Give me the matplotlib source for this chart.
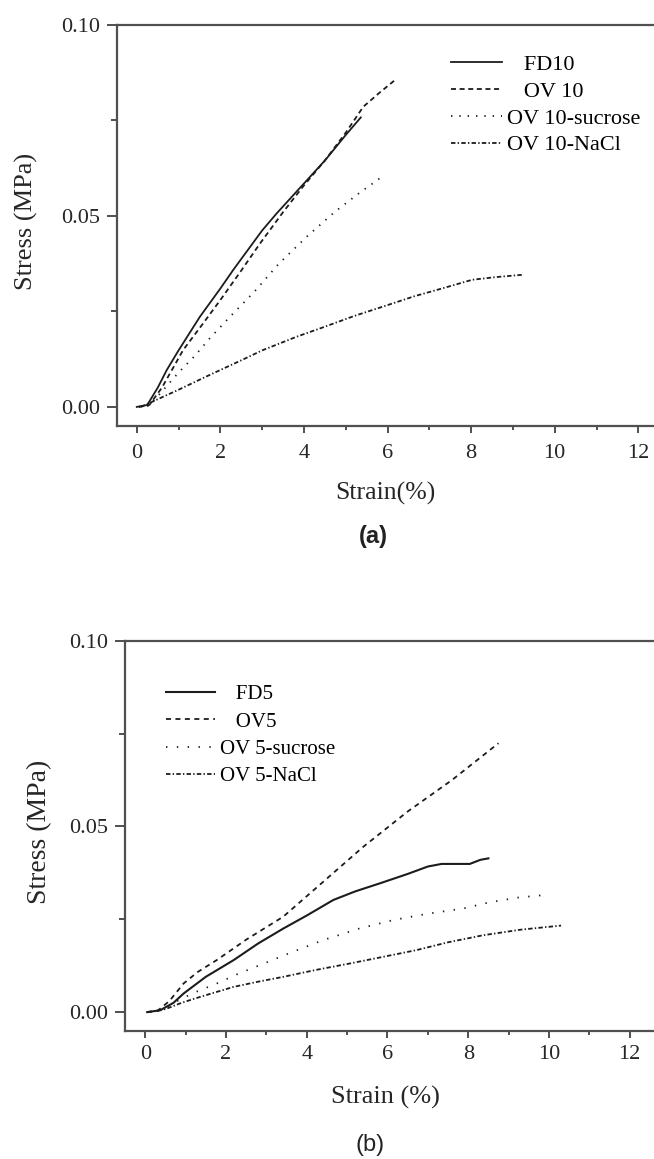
import matplotlib
matplotlib.use("Agg")
import matplotlib.pyplot as plt
from matplotlib.ticker import MultipleLocator, FixedLocator

plt.rcParams['font.family'] = ['Liberation Serif', 'DejaVu Serif']
plt.rcParams['lines.scale_dashes'] = False

# ---------------- data: panel (a) ----------------
fd10_x = [0.0, 0.25, 0.5, 0.72, 1.0, 1.51, 2.0, 2.31, 3.0, 3.35, 4.0, 4.5, 5.0, 5.36]
fd10_y = [0.0, 0.0005, 0.005, 0.0097, 0.0148, 0.0236, 0.031, 0.0359, 0.0462, 0.0507, 0.0585, 0.0645, 0.0712, 0.0758]

ov10_x = [0.05, 0.3, 0.6, 1.11, 1.59, 2.0, 2.5, 2.95, 3.5, 4.0, 4.5, 5.0, 5.42, 5.8, 6.18]
ov10_y = [0.0, 0.0005, 0.005, 0.0149, 0.0219, 0.028, 0.0357, 0.0428, 0.051, 0.058, 0.0645, 0.0718, 0.0786, 0.0822, 0.0856]

ov10s_x = [0.05, 0.3, 0.6, 1.0, 1.4, 1.75, 2.23, 2.8, 3.4, 4.07, 4.74, 5.3, 5.82]
ov10s_y = [0.0, 0.0003, 0.004, 0.009, 0.0135, 0.018, 0.0236, 0.030, 0.0375, 0.0446, 0.0511, 0.0558, 0.0599]

ov10n_x = [0.1, 0.5, 1.0, 1.75, 2.5, 3.0, 3.83, 4.5, 5.2, 5.9, 6.65, 7.3, 8.03, 8.6, 9.24]
ov10n_y = [0.0, 0.002, 0.0045, 0.0084, 0.0122, 0.0148, 0.0184, 0.021, 0.0238, 0.0263, 0.029, 0.031, 0.0333, 0.034, 0.0346]

labels_a = ["   FD10", "   OV 10", "OV 10-sucrose", "OV 10-NaCl"]

# ---------------- data: panel (b) ----------------
fd5_x = [0.05, 0.37, 0.7, 0.95, 1.5, 2.19, 2.8, 3.42, 4.0, 4.66, 5.2, 5.82, 6.5, 7.0, 7.34, 8.04, 8.3, 8.5]
fd5_y = [0.0, 0.0005, 0.0025, 0.005, 0.0095, 0.014, 0.0185, 0.0225, 0.026, 0.0302, 0.0325, 0.0347, 0.0372, 0.0392, 0.0399, 0.0399, 0.0410, 0.0414]

ov5_x = [0.05, 0.3, 0.6, 0.95, 1.3, 1.77, 2.5, 3.42, 4.4, 5.4, 6.5, 7.6, 8.75]
ov5_y = [0.0, 0.0003, 0.003, 0.0077, 0.0108, 0.014, 0.0195, 0.0257, 0.035, 0.0445, 0.054, 0.0625, 0.0724]

ov5s_x = [0.05, 0.4, 0.8, 1.2, 1.77, 2.3, 2.85, 3.6, 4.41, 5.3, 6.15, 7.0, 7.88, 8.5, 9.2, 9.86]
ov5s_y = [0.0, 0.0005, 0.003, 0.0052, 0.0077, 0.0103, 0.0127, 0.016, 0.0194, 0.0225, 0.0248, 0.0265, 0.0279, 0.0295, 0.0308, 0.0315]

ov5n_x = [0.05, 0.5, 0.9, 1.36, 2.19, 2.8, 3.42, 4.2, 5.07, 5.9, 6.72, 7.5, 8.37, 9.3, 10.3]
ov5n_y = [0.0, 0.0008, 0.0025, 0.0041, 0.0068, 0.0082, 0.0095, 0.0113, 0.0131, 0.0149, 0.0167, 0.0188, 0.0207, 0.0222, 0.0233]

labels_b = ["   FD5", "   OV5", "OV 5-sucrose", "OV 5-NaCl"]

x_ticks = [0, 2, 4, 6, 8, 10, 12]
y_ticks = [0.00, 0.05, 0.10]
y_ticklabels = ["0.00", "0.05", "0.10"]

W, H = 654, 1159
fig = plt.figure(figsize=(W / 100, H / 100), dpi=100)

def px_axes(left, top, right, bottom):
    return [left / W, 1 - bottom / H, (right - left) / W, (bottom - top) / H]

LC = '#1c1c1c'
SC = '#505050'
TC = '#262626'

def style_axes(ax, xlim, xpad):
    ax.set_xlim(*xlim)
    ax.set_ylim(-0.005, 0.10)
    ax.xaxis.set_major_locator(FixedLocator(x_ticks))
    ax.xaxis.set_minor_locator(MultipleLocator(1))
    ax.yaxis.set_major_locator(FixedLocator(y_ticks))
    ax.set_yticklabels(y_ticklabels)
    ax.yaxis.set_minor_locator(MultipleLocator(0.025))
    for s in ['left', 'bottom', 'top']:
        ax.spines[s].set_color(SC)
        ax.spines[s].set_linewidth(1.6)
    ax.spines['right'].set_visible(False)
    ax.tick_params(axis='both', which='major', direction='out', color=SC,
                   width=1.4, labelsize=16, labelcolor=TC)
    ax.tick_params(axis='x', which='major', length=5, pad=xpad)
    ax.tick_params(axis='y', which='major', length=7, pad=5)
    ax.tick_params(axis='x', which='minor', length=3, width=1.4, color=SC)
    ax.tick_params(axis='y', which='minor', length=4, width=1.4, color=SC)
    ax.tick_params(top=False, right=False, which='both')

# ---------------- panel (a) ----------------
ax1 = fig.add_axes(px_axes(116.7, 25, 663.4, 426))
l1, = ax1.plot(fd10_x, fd10_y, color=LC, lw=1.3, ls='-')
l2, = ax1.plot(ov10_x, ov10_y, color=LC, lw=1.3, ls=(0, (3.6, 2.6)))
l3, = ax1.plot(ov10s_x, ov10s_y, color=LC, lw=1.3, ls=(0, (1.0, 5.0)))
l4, = ax1.plot(ov10n_x, ov10n_y, color=LC, lw=1.3, ls=(0, (3.2, 1.6, 1.0, 1.6)))
style_axes(ax1, (-0.48, 12.6), 8)
ax1.legend([l1, l2, l3, l4], labels_a, loc='upper left', frameon=False,
           bbox_to_anchor=(451 / W, 1 - 54.5 / H), bbox_transform=fig.transFigure,
           borderpad=0, borderaxespad=0, handlelength=2.3, handletextpad=0.2,
           labelspacing=0.28, prop={'size': 16})

fig.text(385.7 / W, 1 - 493 / H, "Strain(%)", ha='center', va='center', fontsize=18.5, color=TC)
fig.text(26 / W, 1 - 221.6 / H, "Stress (MPa)", ha='center', va='center', rotation=90, fontsize=19, color=TC)
fig.text(373 / W, 1 - 536 / H, "(a)", ha='center', va='center', fontsize=17, fontweight='bold',
         family=['Liberation Sans', 'DejaVu Sans'], color='#222222')

# ---------------- panel (b) ----------------
ax2 = fig.add_axes(px_axes(125, 640.7, 662, 1030.7))
m1, = ax2.plot(fd5_x, fd5_y, color=LC, lw=1.5, ls='-')
m2, = ax2.plot(ov5_x, ov5_y, color=LC, lw=1.3, ls=(0, (3.6, 3.2)))
m3, = ax2.plot(ov5s_x, ov5s_y, color=LC, lw=1.3, ls=(0, (1.0, 6.8)))
m4, = ax2.plot(ov5n_x, ov5n_y, color=LC, lw=1.3, ls=(0, (3.2, 1.6, 1.0, 1.6)))
style_axes(ax2, (-0.5, 12.8), 5)
ax2.legend([m1, m2, m3, m4], labels_b, loc='upper left', frameon=False,
           bbox_to_anchor=(165.6 / W, 1 - 684.7 / H), bbox_transform=fig.transFigure,
           borderpad=0, borderaxespad=0, handlelength=2.35, handletextpad=0.25,
           labelspacing=0.37, prop={'size': 15})

fig.text(385.6 / W, 1 - 1097 / H, "Strain (%)", ha='center', va='center', fontsize=19, color=TC)
fig.text(40 / W, 1 - 831.6 / H, "Stress (MPa)", ha='center', va='center', rotation=90, fontsize=20, color=TC)
fig.text(370 / W, 1 - 1145 / H, "(b)", ha='center', va='center', fontsize=17,
         family=['Liberation Sans', 'DejaVu Sans'], color='#222222')

fig.savefig("out.png", dpi=100)
